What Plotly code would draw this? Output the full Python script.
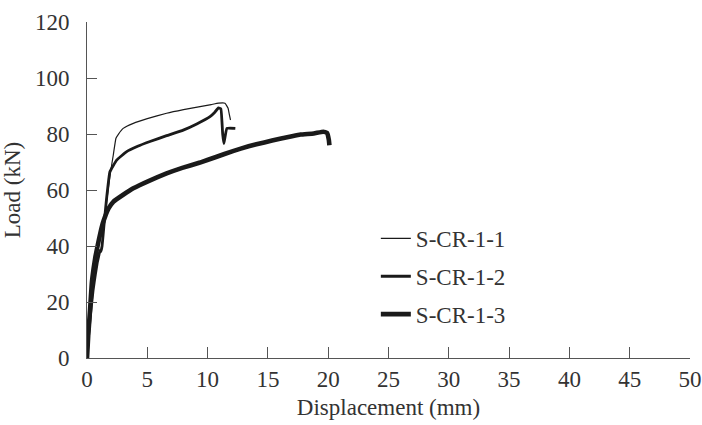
import plotly.graph_objects as go

# ---- data ----
names = ["S-CR-1-1", "S-CR-1-2", "S-CR-1-3"]

disp_1 = [0, 0.15, 0.3, 0.5, 0.7, 0.85, 1.0, 1.1, 1.15, 1.25, 1.4, 1.63, 1.9, 2.18,
          2.4, 2.6, 3.0, 3.84, 5.0, 6.6, 8.0, 9.37, 10.3, 10.9, 11.44, 11.7, 11.8, 11.9]
load_1 = [0, 10, 17, 25, 31, 35, 37.5, 38.5, 38, 40, 47, 55.8, 65, 72.5,
          78.5, 79.9, 82, 83.8, 85.5, 87.4, 88.7, 89.8, 90.5, 91, 91, 89.2, 87, 85]

disp_2 = [0, 0.15, 0.3, 0.5, 0.7, 0.85, 1.0, 1.1, 1.15, 1.25, 1.4, 1.6, 1.9, 2.46,
          3.29, 4.2, 5.22, 6.6, 7.98, 9.1, 10.2, 10.6, 10.9, 11.1, 11.25, 11.35, 11.6, 12.3]
load_2 = [0, 9, 16, 24, 30, 34, 37, 38.5, 38, 40, 47, 56, 66.5, 70.7,
          73.7, 75.6, 77.3, 79.4, 81.4, 83.6, 86.2, 87.8, 89.3, 89.0, 80, 76.6, 82, 82]

disp_3 = [0, 0.1, 0.25, 0.4, 0.55, 0.7, 0.9, 1.1, 1.3, 1.5, 1.8, 2.18, 3.0, 3.84,
          5.1, 6.6, 7.9, 9.37, 10.7, 12.1, 13.4, 14.7, 16.0, 17.0, 17.7, 18.8, 19.6,
          19.9, 20.05, 20.1]
load_3 = [0, 8, 17, 26.7, 32, 36.2, 40.5, 44.5, 48, 50.5, 53.5, 55.8, 58.3, 60.6,
          63.2, 65.9, 67.9, 69.8, 71.8, 73.9, 75.6, 77.0, 78.3, 79.2, 79.8, 80.2, 80.8,
          80.4, 78, 76]

x_ticks = [0, 5, 10, 15, 20, 25, 30, 35, 40, 45, 50]
y_ticks = [0, 20, 40, 60, 80, 100, 120]

series = [(disp_1, load_1, 1.2), (disp_2, load_2, 2.8), (disp_3, load_3, 4.6)]

FONT = "'Liberation Serif', 'Times New Roman', Times, serif"
TXT = "#333333"
AX = "#555555"
FS = 23

fig = go.Figure()
for name, (xs, ys, w) in zip(names, series):
    fig.add_trace(go.Scatter(
        x=xs, y=ys, mode="lines", name=name, legendgroup=name,
        line=dict(color="#1a1a1a", width=w, shape="spline", smoothing=0.3),
    ))

fig.update_layout(
    width=702, height=425,
    margin=dict(l=87, r=12, t=22, b=67),
    paper_bgcolor="white", plot_bgcolor="white",
    font=dict(family=FONT, size=FS, color=TXT),
    showlegend=True,
    legend=dict(
        x=0.479, y=0.42, xanchor="left", yanchor="top",
        font=dict(family=FONT, size=FS, color=TXT),
        bgcolor="rgba(0,0,0,0)", borderwidth=0,
        traceorder="grouped", tracegroupgap=5,
        itemwidth=30,
    ),
)

fig.update_xaxes(
    range=[0, 50], tickvals=x_ticks, ticktext=[str(v) for v in x_ticks],
    showgrid=False, zeroline=False, automargin=False,
    showline=True, linecolor=AX, linewidth=1,
    ticks="inside", ticklen=11, tickwidth=1, tickcolor=AX,
    tickfont=dict(family=FONT, size=FS, color=TXT),
    title=dict(text="Displacement (mm)", font=dict(family=FONT, size=FS, color=TXT), standoff=8),
)
fig.update_yaxes(
    range=[0, 120], tickvals=y_ticks, ticktext=[str(v) for v in y_ticks],
    showgrid=False, zeroline=False, automargin=False,
    showline=True, linecolor=AX, linewidth=1,
    ticks="inside", ticklen=10, tickwidth=1, tickcolor=AX,
    ticklabelstandoff=12,
    tickfont=dict(family=FONT, size=FS, color=TXT),
    title=dict(text="Load (kN)", font=dict(family=FONT, size=FS, color=TXT), standoff=8),
)

fig.write_html("out.html")
